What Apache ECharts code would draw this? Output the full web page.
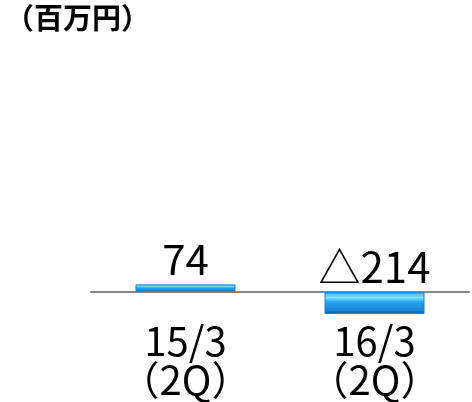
<!DOCTYPE html>
<html><head><meta charset="utf-8">
<script src="https://cdn.jsdelivr.net/npm/echarts@6/dist/echarts.min.js"></script>
<style>html,body{margin:0;padding:0;background:#fff}#c{width:472px;height:402px}</style>
</head><body><div id="c"></div>
<script>
const categories = ['15/3\n（2Q）', '16/3\n（2Q）'];
const values = [74, -214];
const unitLabel = '（百万円）';

const FONT = '"Noto Sans CJK JP", sans-serif';
const chart = echarts.init(document.getElementById('c'));
const barColor = new echarts.graphic.LinearGradient(0, 0, 0, 1, [
  {offset: 0, color: '#2f9ee8'},
  {offset: 0.25, color: '#7fe4ff'},
  {offset: 0.45, color: '#26a6f0'},
  {offset: 0.85, color: '#1682d4'},
  {offset: 1, color: '#0b5a9c'}
]);
chart.setOption({
  animation: false,
  title: {
    text: unitLabel, left: 0, top: -2,
    textStyle: {fontFamily: 'Noto Sans CJK JP', fontWeight: 'bold', fontSize: 29, color: '#000'}
  },
  grid: {left: 91, right: 3, top: 189, bottom: 110},
  xAxis: {
    type: 'category', data: categories,
    axisLine: {onZero: false, lineStyle: {color: '#888', width: 2}},
    axisTick: {show: false},
    axisLabel: {
      interval: 0, margin: 29,
      fontFamily: FONT, fontSize: 40, lineHeight: 39, color: '#000'
    }
  },
  yAxis: {type: 'value', min: 0, max: 1000, show: false, splitLine: {show: false}},
  series: [{
    type: 'bar', data: values, barWidth: 100, clip: false,
    itemStyle: {color: barColor, borderColor: '#1a86d0', borderWidth: 1},
    label: {
      show: true, position: 'top', distance: 4,
      fontFamily: FONT, fontSize: 42, color: '#000',
      formatter: p => p.value < 0 ? '△' + Math.abs(p.value) : String(p.value)
    }
  }]
});
</script></body></html>
